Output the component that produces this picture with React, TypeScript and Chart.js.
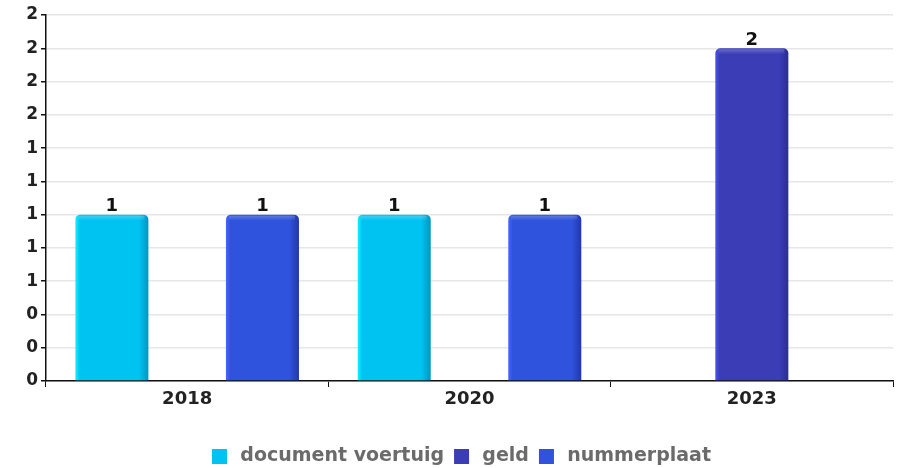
import React, { useEffect, useRef } from "react";
import { Chart, registerables } from "chart.js";

Chart.register(...registerables);

const categories = ["2018", "2020", "2023"];
const seriesNames = ["document voertuig", "geld", "nummerplaat"];
const documentVoertuig = [1, 1, 0];
const geld = [0, 0, 2];
const nummerplaat = [1, 1, 0];
const yTicks = [0, 0.2, 0.4, 0.6, 0.8, 1.0, 1.2, 1.4, 1.6, 1.8, 2.0, 2.2];

const mainColors = ["#00c3f2", "#3a3db6", "#2f53dc"];
const lightColors = ["#10f4ff", "#4b52f2", "#4566ff"];
const darkColors = ["#0096bb", "#2b2e90", "#2238a8"];

const FONT = "'DejaVu Sans', sans-serif";

const legendShiftPlugin = {
  id: "legendShift",
  afterLayout(chart: any) {
    const lg = chart.legend;
    if (lg) {
      lg.left += 15;
      lg.right += 15;
    }
  },
};

const gradientPlugin = {
  id: "barGradient",
  beforeDatasetsDraw(chart: any) {
    const ctx = chart.ctx;
    chart.data.datasets.forEach((ds: any, di: number) => {
      const meta = chart.getDatasetMeta(di);
      meta.data.forEach((bar: any) => {
        const w = bar.width || 0;
        if (!w) return;
        const x0 = bar.x - w / 2;
        const x1 = bar.x + w / 2;
        const g = ctx.createLinearGradient(x0, 0, x1, 0);
        g.addColorStop(0, lightColors[di]);
        g.addColorStop(0.06, mainColors[di]);
        g.addColorStop(0.87, mainColors[di]);
        g.addColorStop(1, darkColors[di]);
        bar.options = { ...bar.options, backgroundColor: g };
      });
    });
  },
};

const labelPlugin = {
  id: "valueLabels",
  afterDatasetsDraw(chart: any) {
    const ctx = chart.ctx;
    ctx.save();
    chart.data.datasets.forEach((ds: any, di: number) => {
      const meta = chart.getDatasetMeta(di);
      meta.data.forEach((bar: any, i: number) => {
        const v = ds.data[i];
        if (!v) return;
        const w = bar.width;
        const x0 = bar.x - w / 2;
        const g = ctx.createLinearGradient(0, bar.y, 0, bar.y + 6);
        g.addColorStop(0, "rgba(255,255,255,0.28)");
        g.addColorStop(1, "rgba(255,255,255,0)");
        ctx.fillStyle = g;
        ctx.beginPath();
        ctx.rect(x0 + 3, bar.y + 1, w - 7, 5);
        ctx.fill();
      });
    });
    ctx.font = `bold 18px ${FONT}`;
    ctx.fillStyle = "#111";
    ctx.textAlign = "center";
    ctx.textBaseline = "bottom";
    chart.data.datasets.forEach((ds: any, di: number) => {
      const meta = chart.getDatasetMeta(di);
      meta.data.forEach((bar: any, i: number) => {
        const v = ds.data[i];
        if (!v) return;
        ctx.fillText(String(v), bar.x, bar.y + 1);
      });
    });
    ctx.restore();
  },
};

export default function App() {
  const ref = useRef<HTMLCanvasElement | null>(null);
  useEffect(() => {
    document.body.style.margin = "0";
    const series = [documentVoertuig, geld, nummerplaat];
    const defaultGen = (Chart as any).defaults.plugins.legend.labels.generateLabels;
    const chart = new Chart(ref.current as HTMLCanvasElement, {
      type: "bar",
      data: {
        labels: categories,
        datasets: seriesNames.map((name, i) => ({
          label: name,
          data: series[i],
          backgroundColor: mainColors[i],
          borderWidth: 0,
          borderRadius: { topLeft: 5, topRight: 5, bottomLeft: 0, bottomRight: 0 },
          borderSkipped: "bottom",
          categoryPercentage: 0.8,
          barPercentage: 0.97,
        })),
      },
      options: {
        animation: false,
        responsive: false,
        maintainAspectRatio: false,
        layout: { padding: { top: 15, right: 10, left: 0, bottom: -8 } },
        plugins: {
          legend: {
            position: "bottom",
            labels: {
              font: { family: FONT, size: 19, weight: "bold" },
              color: "#6b6b6b",
              boxWidth: 15,
              boxHeight: 15,
              padding: 10,
              generateLabels: (c: any) =>
                defaultGen(c).map((l: any, i: number) => ({
                  ...l,
                  text: "\u2009" + l.text,
                  fillStyle: mainColors[i],
                  strokeStyle: mainColors[i],
                  lineWidth: 0,
                })),
            },
          },
          tooltip: { enabled: false },
        },
        scales: {
          x: {
            offset: true,
            grid: {
              display: true,
              drawOnChartArea: false,
              drawTicks: true,
              tickLength: 6,
              tickColor: "#111",
              offset: true,
            },
            border: { color: "#111", width: 1.5 },
            ticks: {
              font: { family: FONT, size: 18, weight: "bold" },
              color: "#222",
              padding: 2,
            },
            afterFit: (s: any) => {
              s.height = 56;
            },
          },
          y: {
            min: 0,
            max: 2.2,
            afterBuildTicks: (s: any) => {
              s.ticks = yTicks.map((v) => ({ value: v }));
            },
            grid: {
              color: "#e6e6e6",
              tickColor: "#111",
              tickLength: 5,
              lineWidth: 1.5,
            },
            border: { color: "#111", width: 1.5 },
            ticks: {
              font: { family: FONT, size: 17, weight: "bold" },
              color: "#222",
              padding: 3,
              callback: (v: any) => String(Math.round(Number(v))),
            },
            afterFit: (s: any) => {
              s.width = 46;
            },
          },
        },
      },
      plugins: [legendShiftPlugin, gradientPlugin, labelPlugin],
    });
    return () => chart.destroy();
  }, []);
  return (
    <div style={{ width: 903, height: 468 }}>
      <canvas ref={ref} width={903} height={468} style={{ display: "block" }} />
    </div>
  );
}
